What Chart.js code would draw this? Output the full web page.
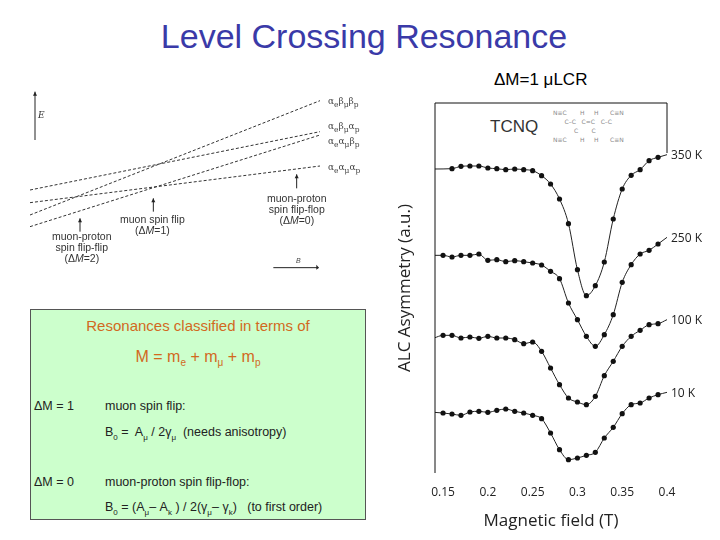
<!DOCTYPE html>
<html><head><meta charset="utf-8">
<script src="https://cdn.jsdelivr.net/npm/chart.js@4"></script>
<style>
body{margin:0;width:720px;height:540px;position:relative;background:#fff;font-family:"Liberation Sans",Arial,sans-serif;overflow:hidden}
.a{position:absolute;white-space:nowrap}
#box{position:absolute;left:30px;top:309px;width:334px;height:209px;background:#ccffcc;border:1px solid #555}
.o{color:#d2691e}
.s{font-size:12.5px;color:#222}
.lv{font-family:"DejaVu Serif",serif;font-size:9px;color:#444}
</style></head><body>
<div class="a" style="left:0;width:728px;top:17px;text-align:center;font-size:34px;color:#3a3aa8">Level Crossing Resonance</div>
<div class="a" style="left:494px;top:70px;font-size:17px">ΔM=1 μLCR</div>

<div id="box">
 <div class="a o" style="left:0;width:334px;top:7px;text-align:center;font-size:15px">Resonances classified in terms of</div>
 <div class="a o" style="left:0;width:334px;top:38px;text-align:center;font-size:16px">M = m<sub style="font-size:10px">e</sub> + m<sub style="font-size:10px">μ</sub> + m<sub style="font-size:10px">p</sub></div>
 <div class="a s" style="left:3px;top:89px">ΔM = 1</div>
 <div class="a s" style="left:74px;top:89px">muon spin flip:</div>
 <div class="a s" style="left:74px;top:115px">B<sub style="font-size:8px">0</sub> =&nbsp; A<sub style="font-size:8px">μ</sub> / 2γ<sub style="font-size:8px">μ</sub> &nbsp;(needs anisotropy)</div>
 <div class="a s" style="left:3px;top:165px">ΔM = 0</div>
 <div class="a s" style="left:74px;top:165px">muon-proton spin flip-flop:</div>
 <div class="a s" style="left:74px;top:190px">B<sub style="font-size:8px">0</sub> = (A<sub style="font-size:8px">μ</sub>– A<sub style="font-size:8px">k</sub> ) / 2(γ<sub style="font-size:8px">μ</sub>– γ<sub style="font-size:8px">k</sub>) &nbsp; (to first order)</div>
</div>

<canvas id="lv" style="position:absolute;left:30px;top:80px;width:340px;height:200px"></canvas>
<div class="a" style="left:38px;top:110px;font-size:9px;font-style:italic;color:#333;font-family:'DejaVu Serif',serif">E</div>
<div class="a lv" style="left:328px;top:96px">α<sub>e</sub>β<sub>μ</sub>β<sub>p</sub></div>
<div class="a lv" style="left:328px;top:121px">α<sub>e</sub>β<sub>μ</sub>α<sub>p</sub></div>
<div class="a lv" style="left:328px;top:136px">α<sub>e</sub>α<sub>μ</sub>β<sub>p</sub></div>
<div class="a lv" style="left:328px;top:162px">α<sub>e</sub>α<sub>μ</sub>α<sub>p</sub></div>
<div class="a s" style="left:52px;top:231px;font-size:10.5px;line-height:11px;text-align:center;color:#333">muon-proton<br>spin flip-flip<br>(Δ<i>M</i>=2)</div>
<div class="a s" style="left:120px;top:214px;font-size:10.5px;line-height:11px;text-align:center;color:#333">muon spin flip<br>(Δ<i>M</i>=1)</div>
<div class="a s" style="left:267px;top:193px;font-size:10.5px;line-height:11px;text-align:center;color:#333">muon-proton<br>spin flip-flop<br>(Δ<i>M</i>=0)</div>
<div class="a" style="left:296px;top:257px;font-size:7px;font-style:italic;color:#444">B</div>

<div class="a" style="left:490px;top:117px;font-size:17px;color:#333">TCNQ</div>
<div class="a" style="left:553px;top:108px;font-size:6px;line-height:9px;color:#888;font-family:'DejaVu Sans'">N≡C&nbsp;&nbsp;&nbsp;&nbsp;&nbsp;&nbsp;&nbsp;H&nbsp;&nbsp;&nbsp;&nbsp;&nbsp;H&nbsp;&nbsp;&nbsp;&nbsp;&nbsp;&nbsp;C≡N<br>&nbsp;&nbsp;&nbsp;&nbsp;&nbsp;&nbsp;C–C&nbsp;&nbsp;&nbsp;C=C&nbsp;&nbsp;&nbsp;C–C<br>&nbsp;&nbsp;&nbsp;&nbsp;&nbsp;&nbsp;&nbsp;&nbsp;&nbsp;&nbsp;&nbsp;C&nbsp;&nbsp;&nbsp;&nbsp;&nbsp;&nbsp;&nbsp;C<br>N≡C&nbsp;&nbsp;&nbsp;&nbsp;&nbsp;&nbsp;&nbsp;H&nbsp;&nbsp;&nbsp;&nbsp;&nbsp;H&nbsp;&nbsp;&nbsp;&nbsp;&nbsp;&nbsp;C≡N</div>

<canvas id="c" style="position:absolute;left:395px;top:95px;width:325px;height:440px"></canvas>
<script>
// ---- ALC data (arbitrary units, curves offset) ----
const fieldT = [0.15,0.16,0.17,0.18,0.19,0.20,0.21,0.22,0.23,0.24,0.25,0.26,0.27,0.28,0.29,0.30,0.31,0.32,0.33,0.34,0.35,0.36,0.37,0.38,0.39];
const temps = ["350 K","250 K","100 K","10 K"];
const a350 = [null,913,920,921,921,915,913,910,912,910,907,892,867,822,748,610,532,562,633,762,852,893,910,937,947];
const a250 = [653,648,653,653,657,638,640,634,637,634,630,624,605,583,510,460,410,380,415,475,572,625,657,668,687];
const a100 = [413,413,405,408,404,410,405,405,400,388,393,365,315,265,225,213,205,230,292,335,380,410,428,445,448];
const a10  = [180,177,173,183,185,182,188,192,185,180,173,163,120,70,40,45,53,62,105,137,178,205,210,225,235];
const startVals = [912,653,405,182];
const endVals = [955,707,460,242];
const xTicks = [0.15,0.2,0.25,0.3,0.35,0.4];
// ---- level diagram lines (energy vs field, arbitrary) ----
const lvX = [0,870];
const lvA = [405,62], lvB = [330,155], lvC = [440,165], lvD = [368,258];

const series=[a350,a250,a100,a10];
const ds=[];
series.forEach((s,i)=>{
  const pts=fieldT.map((x,j)=>({x,y:s[j]})).filter(p=>p.y!=null);
  ds.push({type:'scatter',data:pts,pointRadius:2.6,pointBackgroundColor:'#111',pointBorderWidth:0,showLine:false});
  ds.push({type:'line',data:[{x:0.14,y:startVals[i]},...pts,{x:0.4,y:endVals[i]}],borderColor:'#222',borderWidth:1,pointRadius:0,cubicInterpolationMode:'monotone',label:temps[i]});
});
const deco={id:'deco',afterDraw(ch){
  const c=ch.ctx,a=ch.chartArea;
  c.save();c.strokeStyle='#111';c.lineWidth=1;
  c.beginPath();c.moveTo(a.left,a.top);c.lineTo(a.right,a.top);c.lineTo(a.right,a.top+50);c.stroke();
  c.beginPath();c.moveTo(a.left,a.top);c.lineTo(a.left,a.bottom);c.stroke();
  c.font='12px "Open Sans", sans-serif';c.fillStyle='#222';c.textBaseline='middle';
  ch.data.datasets.forEach((d,i)=>{ if(d.label){const p=d.data[d.data.length-1];
    c.fillText(d.label,a.right+4,ch.scales.y.getPixelForValue(p.y)+1);} });
  c.restore();}};
new Chart(document.getElementById('c'),{
  data:{datasets:ds},
  plugins:[deco],
  options:{responsive:false,animation:false,
    layout:{padding:{top:8,right:53,left:0,bottom:0}},
    plugins:{legend:{display:false},tooltip:{enabled:false}},
    scales:{
      x:{type:'linear',min:0.141,max:0.4,afterBuildTicks(s){s.ticks=xTicks.map(v=>({value:v}));},
        grid:{display:false},border:{display:false},
        ticks:{color:'#222',font:{size:12,family:'Open Sans'},padding:4,callback:v=>String(v)},
        title:{display:true,text:'Magnetic field (T)',color:'#222',font:{size:17,family:'Open Sans'},padding:{top:4}},
        afterFit(s){s.height=62;}},
      y:{min:0,max:1110,grid:{display:false},border:{display:false},ticks:{display:false},
        title:{display:true,text:'ALC Asymmetry (a.u.)',color:'#222',font:{size:17,family:'Open Sans'},padding:0},
        afterFit(s){s.width=40;}}
    }}
});
// level diagram
const ld=[lvA,lvB,lvC,lvD].map(l=>({data:lvX.map((x,j)=>({x,y:l[j]})),borderColor:'#333',borderWidth:1,borderDash:[3,2],pointRadius:0}));
const arrows={id:'arr',afterDraw(ch){
  const c=ch.ctx,X=v=>ch.scales.x.getPixelForValue(v),Y=v=>ch.scales.y.getPixelForValue(v);
  c.save();c.strokeStyle='#222';c.fillStyle='#222';c.lineWidth=1;
  const up=(x,y1,y2)=>{c.beginPath();c.moveTo(X(x),Y(y1));c.lineTo(X(x),Y(y2));c.stroke();
    c.beginPath();c.moveTo(X(x)-2,Y(y2)+4);c.lineTo(X(x),Y(y2));c.lineTo(X(x)+2,Y(y2)+4);c.fill();};
  up(15,180,35);up(150,455,415);up(370,395,355);up(800,325,283);
  c.beginPath();c.moveTo(X(730),Y(563));c.lineTo(X(865),Y(563));c.stroke();
  c.beginPath();c.moveTo(X(859),Y(560)-2);c.lineTo(X(867),Y(563));c.lineTo(X(859),Y(563)+2);c.fill();
  c.restore();}};
new Chart(document.getElementById('lv'),{type:'line',data:{datasets:ld},plugins:[arrows],
  options:{responsive:false,animation:false,layout:{padding:0},plugins:{legend:{display:false},tooltip:{enabled:false}},
  scales:{x:{type:'linear',min:0,max:1020,display:false},y:{min:0,max:600,reverse:true,display:false}}}});
</script>
</body></html>
